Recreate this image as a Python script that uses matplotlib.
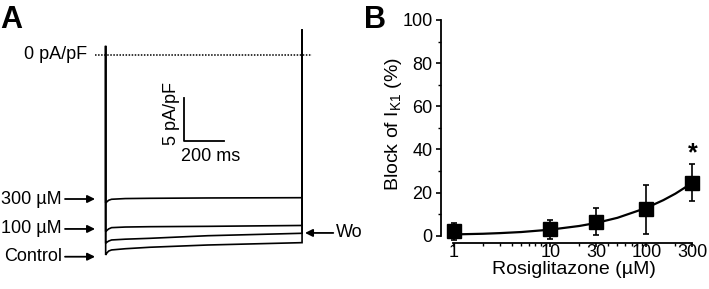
import numpy as np
import matplotlib
matplotlib.use("Agg")
import matplotlib.pyplot as plt

plt.rcParams['font.family'] = ['Liberation Sans', 'DejaVu Sans']
plt.rcParams['mathtext.fontset'] = 'custom'
plt.rcParams['mathtext.rm'] = 'Liberation Sans'
plt.rcParams['mathtext.it'] = 'Liberation Sans:italic'

# ---- panel A: current traces (pA/pF) vs time (ms) ----
trace_t = [0, 5, 15, 30, 100, 225, 520, 1000]
i_300 = [-17.1, -17.0, -16.8, -16.68, -16.6, -16.57, -16.53, -16.5]
i_100 = [-20.4, -20.3, -20.1, -19.95, -19.88, -19.84, -19.80, -19.70]
i_wo = [-21.75, -21.65, -21.5, -21.37, -21.28, -21.18, -20.88, -20.6]
i_ctrl = [-23.1, -22.9, -22.65, -22.52, -22.38, -22.21, -21.95, -21.68]
onset_peak = 0.9
tail_peak = 2.8
trace_labels = ['300 µM', '100 µM', 'Control']
label_levels = [-16.65, -20.1, -23.3]

# ---- panel B: concentration-response ----
conc = [1, 10, 30, 100, 300]
block = [2.0, 3.0, 6.5, 12.3, 24.5]
block_err = [4.0, 4.5, 6.3, 11.4, 8.6]
fit_conc = [1, 2, 3, 5, 10, 20, 30, 50, 100, 150, 200, 300]
fit_block = [0.6, 0.9, 1.2, 1.7, 2.8, 4.5, 5.9, 8.3, 12.9, 16.5, 19.5, 24.5]

fig = plt.figure(figsize=(7.09, 2.89), dpi=100)

# panel A
axA = fig.add_axes([0, 0, 360 / 709, 1])
axA.set_xlim(-538, 1295)
axA.set_ylim(-27.02, 6.28)
axA.axis('off')

for tr in [i_300, i_100, i_wo, i_ctrl]:
    t = [0] + trace_t + [1000]
    y = [onset_peak] + tr + [tail_peak]
    axA.plot(t, y, color='k', lw=1.2, solid_joinstyle='miter')

axA.plot([-54, 1051], [0, 0], color='k', lw=1.1, ls=(0, (1, 1)))
axA.text(-95, 0, '0 pA/pF', ha='right', va='center', fontsize=13)

# scale bar
axA.plot([400, 400, 600], [-5, -10, -10], color='k', lw=1.3)
axA.text(336, -6.85, '5 pA/pF', rotation=90, ha='center', va='center', fontsize=13)
axA.text(535, -11.8, '200 ms', ha='center', va='center', fontsize=13)

arrow_kw = dict(arrowstyle='-|>', color='k', lw=1.3, mutation_scale=11,
                shrinkA=0, shrinkB=0)
for lab, lev in zip(trace_labels, label_levels):
    axA.text(-224, lev, lab, ha='right', va='center', fontsize=13)
    axA.annotate('', xy=(-54, lev), xytext=(-207, lev), arrowprops=arrow_kw)
axA.annotate('', xy=(1015, -20.56), xytext=(1159, -20.56), arrowprops=arrow_kw)
axA.text(1173, -20.56, 'Wo', ha='left', va='center', fontsize=13)

fig.text(0.0, 1 - 5 / 289, 'A', fontsize=22, fontweight='bold', ha='left', va='top')
fig.text(364 / 709, 1 - 5 / 289, 'B', fontsize=22, fontweight='bold', ha='left', va='top')

# panel B
axB = fig.add_axes([441 / 709, 53.3 / 289, 264 / 709, 215.7 / 289])
axB.set_xscale('log')
axB.set_xlim(0.733, 406)
axB.set_ylim(0, 100)
axB.plot(fit_conc, fit_block, color='k', lw=1.6, clip_on=False)
axB.errorbar(conc, block, yerr=block_err, fmt='s', color='k', ms=9.5,
             elinewidth=1.2, capsize=2.5, capthick=1.2, clip_on=False)
axB.text(300, 38.3, '*', ha='center', va='center', fontsize=18, fontweight='bold')

for s in ['top', 'right']:
    axB.spines[s].set_visible(False)
axB.spines['left'].set_bounds(0, 100)
axB.spines['bottom'].set_bounds(0.97, 300)
axB.spines['bottom'].set_position(('outward', 4.9))
for s in ['left', 'bottom']:
    axB.spines[s].set_linewidth(1.3)

axB.set_yticks([0, 20, 40, 60, 80, 100])
axB.set_yticks(np.arange(10, 100, 20), minor=True)
axB.set_xticks([1, 10, 30, 100, 300])
axB.set_xticklabels(['1', '10', '30', '100', '300'])
minor_x = [2, 3, 4, 5, 6, 7, 8, 9, 20, 40, 50, 60, 70, 80, 90, 200]
axB.set_xticks(minor_x, minor=True)
axB.set_xticklabels([], minor=True)
axB.tick_params(axis='both', which='major', labelsize=13, width=1.2, length=3.5, pad=2.5)
axB.tick_params(axis='both', which='minor', width=1.0, length=2.2)
axB.tick_params(axis='x', which='major', length=3, pad=-2)

axB.set_xlabel('Rosiglitazone (µM)', fontsize=14)
axB.xaxis.set_label_coords(0.502, -0.117)
axB.set_ylabel('Block of I$_{\\mathrm{K1}}$ (%)', fontsize=14)
axB.yaxis.set_label_coords(-0.14, 0.52)

fig.savefig('out.png', dpi=100)
